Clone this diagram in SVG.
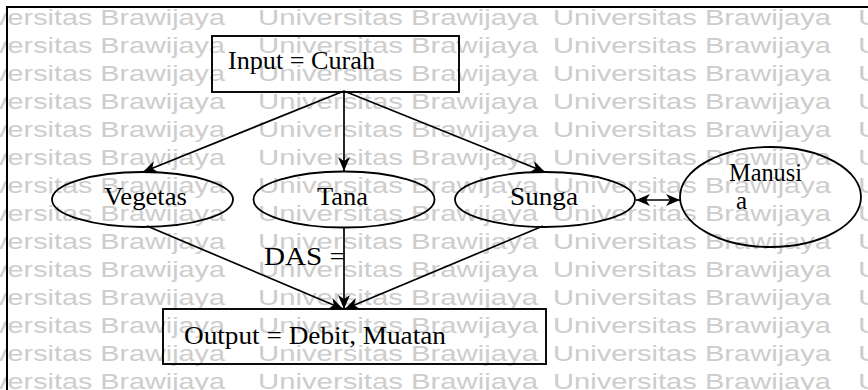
<svg xmlns="http://www.w3.org/2000/svg" width="868" height="390" viewBox="0 0 868 390">
<defs>
<style>
.wm{font-family:"Liberation Sans",Arial,sans-serif;font-size:21.5px;fill:#cdcdcd}
.t{font-family:"Liberation Serif","Times New Roman",serif;font-size:25px;fill:#000}
.shape{fill:none;stroke:#000;stroke-width:1.8}
.box{fill:none;stroke:#000;stroke-width:1.9}
.ln{fill:none;stroke:#000;stroke-width:1.7}
</style>
<marker id="ah" markerWidth="15" markerHeight="13" refX="14" refY="6.5" orient="auto" markerUnits="userSpaceOnUse">
<path d="M0,0.5 L14,6.5 L0,12.5 L4,6.5 Z" fill="#000"/>
</marker>
<marker id="as" markerWidth="15" markerHeight="13" refX="0" refY="6.5" orient="auto" markerUnits="userSpaceOnUse">
<path d="M14,0.5 L0,6.5 L14,12.5 L10,6.5 Z" fill="#000"/>
</marker>
<g id="wmrow">
<text class="wm" x="-50" y="0" textLength="275" lengthAdjust="spacingAndGlyphs">Universitas Brawijaya</text>
<text class="wm" x="258" y="0" textLength="280" lengthAdjust="spacingAndGlyphs">Universitas Brawijaya</text>
<text class="wm" x="553" y="0" textLength="278" lengthAdjust="spacingAndGlyphs">Universitas Brawijaya</text>
<text class="wm" x="858" y="0" textLength="150" lengthAdjust="spacingAndGlyphs">Universitas</text>
</g>
</defs>
<rect width="868" height="390" fill="#fff"/>
<g id="watermark">
<use href="#wmrow" y="24.5"/>
<use href="#wmrow" y="52.5"/>
<use href="#wmrow" y="80.5"/>
<use href="#wmrow" y="108.5"/>
<use href="#wmrow" y="136.5"/>
<use href="#wmrow" y="164.5"/>
<use href="#wmrow" y="192.5"/>
<use href="#wmrow" y="220.5"/>
<use href="#wmrow" y="248.5"/>
<use href="#wmrow" y="276.5"/>
<use href="#wmrow" y="304.5"/>
<use href="#wmrow" y="332.5"/>
<use href="#wmrow" y="360.5"/>
<use href="#wmrow" y="388.5"/>
</g>
<path id="frame" d="M7,392 V7 H870" fill="none" stroke="#000" stroke-width="2"/>
<g id="connectors">
<line class="ln" x1="344" y1="91" x2="143" y2="172" marker-end="url(#ah)"/>
<line class="ln" x1="344" y1="91" x2="344" y2="171" marker-end="url(#ah)"/>
<line class="ln" x1="344" y1="91" x2="545" y2="172" marker-end="url(#ah)"/>
<line class="ln" x1="147" y1="226" x2="343" y2="309" marker-end="url(#ah)"/>
<line class="ln" x1="344" y1="227" x2="344" y2="309" marker-end="url(#ah)"/>
<line class="ln" x1="543" y1="226" x2="345" y2="309" marker-end="url(#ah)"/>
<line class="ln" x1="636" y1="200" x2="680" y2="200" marker-start="url(#as)" marker-end="url(#ah)"/>
</g>
<g id="input">
<rect class="box" x="212" y="36" width="247" height="56"/>
<text class="t" x="228" y="69" textLength="147" lengthAdjust="spacingAndGlyphs">Input = Curah</text>
</g>
<g id="vegetasi">
<ellipse class="shape" cx="142.5" cy="199.5" rx="90.5" ry="27.5"/>
<text class="t" x="104" y="205" textLength="83" lengthAdjust="spacingAndGlyphs">Vegetas</text>
</g>
<g id="tanah">
<ellipse class="shape" cx="344" cy="199.5" rx="90.5" ry="28"/>
<text class="t" x="317" y="205" textLength="51" lengthAdjust="spacingAndGlyphs">Tana</text>
</g>
<g id="sungai">
<ellipse class="shape" cx="545" cy="199.5" rx="90" ry="27.5"/>
<text class="t" x="510" y="205" textLength="68" lengthAdjust="spacingAndGlyphs">Sunga</text>
</g>
<g id="manusia">
<ellipse class="shape" cx="770.5" cy="197" rx="90.5" ry="50"/>
<text class="t" x="729" y="181" textLength="73" lengthAdjust="spacingAndGlyphs">Manusi</text>
<text class="t" x="736" y="209">a</text>
</g>
<g id="das">
<text class="t" x="264" y="265" textLength="82" lengthAdjust="spacingAndGlyphs">DAS =</text>
</g>
<g id="output">
<rect class="box" x="163" y="309" width="383" height="55"/>
<text class="t" x="184" y="344" textLength="262" lengthAdjust="spacingAndGlyphs">Output = Debit, Muatan</text>
</g>
</svg>
